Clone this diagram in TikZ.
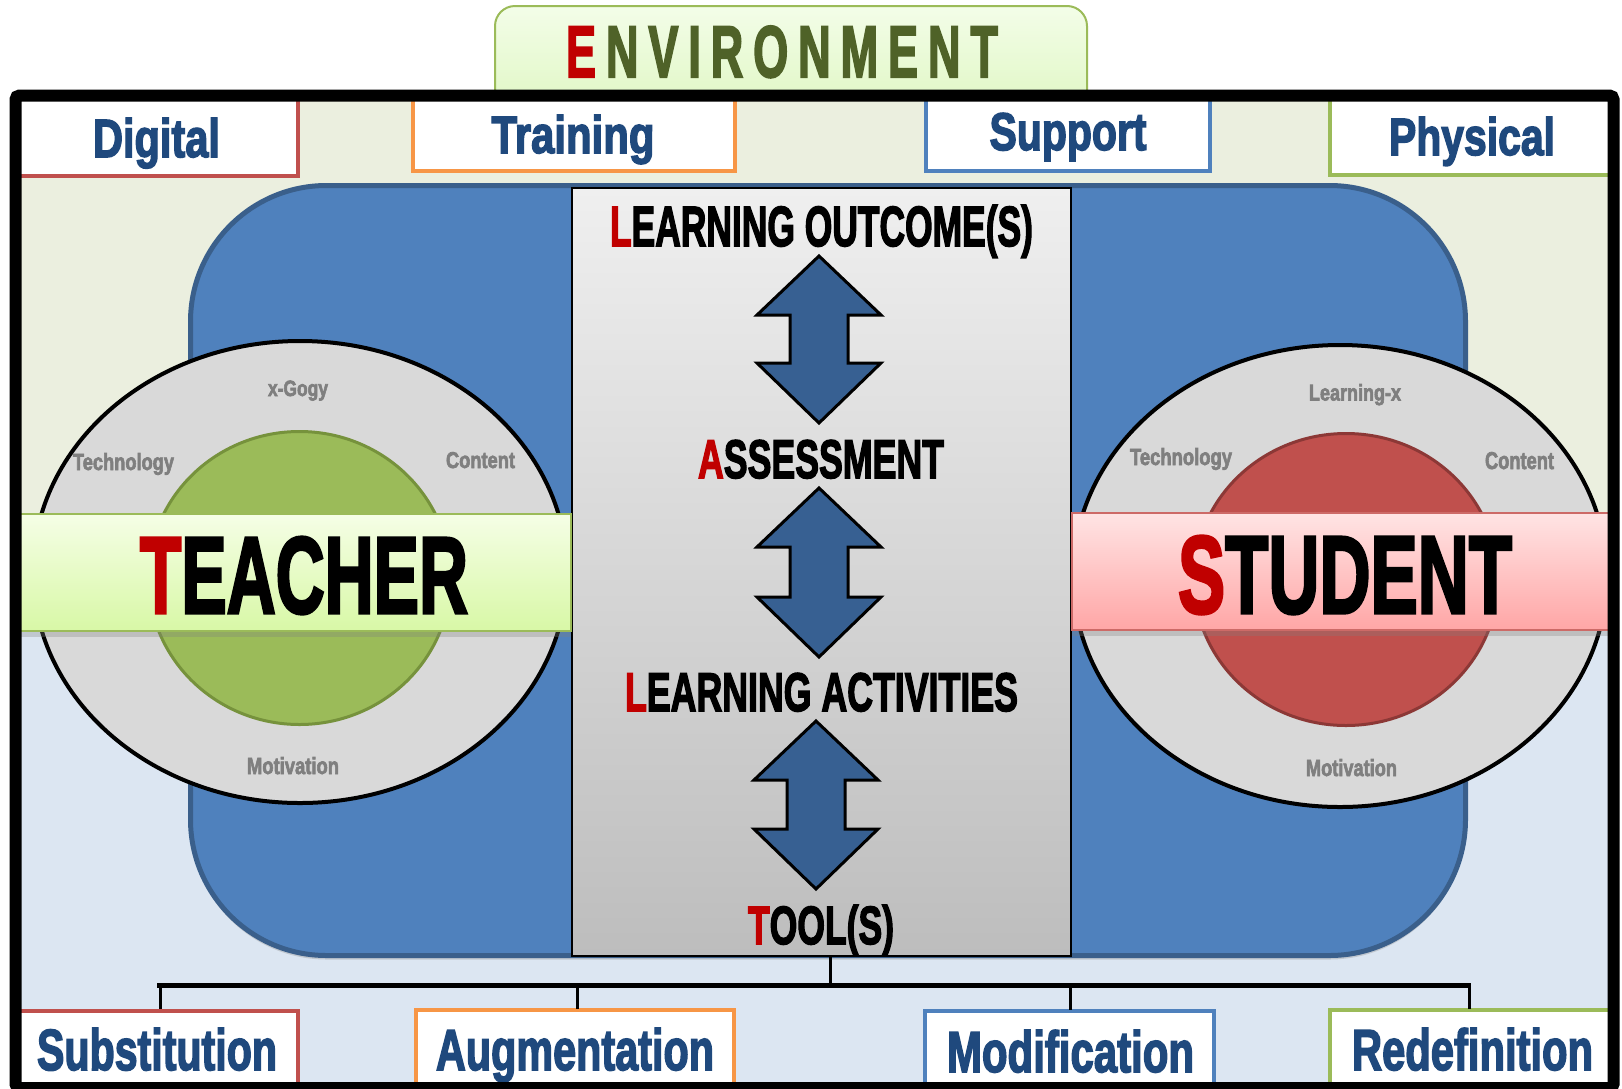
\documentclass[tikz,border=0pt]{standalone}
\usepackage{fontspec}
\usepackage{graphicx}
\usetikzlibrary{shadows}
\newfontfamily\impactfont{Liberation Sans}[BoldFeatures={FakeBold=3}]
\definecolor{envred}{HTML}{C00000}
\definecolor{envolive}{HTML}{4F6228}
\definecolor{envtop}{HTML}{F3FDE8}
\definecolor{envbottom}{HTML}{E2F8C8}
\definecolor{tabblue}{HTML}{1F497D}
\definecolor{edgered}{HTML}{C0504D}
\definecolor{edgeorange}{HTML}{F79646}
\definecolor{edgeblue}{HTML}{4F81BD}
\definecolor{edgegreen}{HTML}{9BBB59}
\definecolor{bgtop}{HTML}{EBEFDF}
\definecolor{bgbottom}{HTML}{DCE6F2}
\definecolor{midblue}{HTML}{4F81BD}
\definecolor{midblueedge}{HTML}{3A5F8B}
\definecolor{coretop}{HTML}{EFEFEF}
\definecolor{corebottom}{HTML}{BDBDBD}
\definecolor{arrowblue}{HTML}{376092}
\definecolor{ringgray}{HTML}{D9D9D9}
\definecolor{labelgray}{HTML}{7F7F7F}
\definecolor{teachgreen}{HTML}{9BBB59}
\definecolor{teachgreenedge}{HTML}{76923C}
\definecolor{teachtop}{HTML}{F5FEE6}
\definecolor{teachbottom}{HTML}{D8F8A6}
\definecolor{studred}{HTML}{C0504D}
\definecolor{studrededge}{HTML}{8C3836}
\definecolor{studtop}{HTML}{FFE4E4}
\definecolor{studbottom}{HTML}{FFA6A6}
\definecolor{studbandedge}{HTML}{CD6A67}

\newlength\pxu \setlength\pxu{0.5pt}
\newcommand\fitbox[3]{\resizebox{#1\pxu}{#2\pxu}{\impactfont\bfseries #3}}
\newcommand\redcap[1]{\textcolor{envred}{#1}}
\newcommand\envgap{\hspace{0.22em}}

\tikzset{
  txt/.style={inner sep=0pt, outer sep=0pt, anchor=base},
  tabbox/.style={fill=white, line width=2pt},
  ringlabel/.style={txt, text=labelgray},
  bandlabel/.style={txt, text=black},
  corelabel/.style={txt, text=black},
  tablabel/.style={txt, text=tabblue},
  blockarrow/.style={fill=arrowblue, draw=black, line width=1.5pt, line join=miter},
  stem/.style={draw=black, line width=1.5pt},
  branchbar/.style={draw=black, line width=2.6pt},
  bandshadow/.style={drop shadow={opacity=0.3, shadow xshift=0pt, shadow yshift=-3pt}},
}

\begin{document}
\begin{tikzpicture}[x=.5pt,y=-.5pt]
\path[use as bounding box] (0,0) rectangle (1622,1088);
\path[fill=white] (0,0) rectangle (1622,1088);

% environment tab
\path[top color=envtop, bottom color=envbottom, draw=edgegreen, line width=1pt, rounded corners=10pt] (495,100) -- (495,6) -- (1087,6) -- (1087,100);
\node[txt, text=envolive] (envTitle) at (782,77) {\fitbox{432}{51}{\redcap{E}\envgap N\envgap V\envgap I\envgap R\envgap O\envgap N\envgap M\envgap E\envgap N\envgap T}};

% inner background
\path[fill=bgtop] (15,95) rectangle (1614,575);
\path[fill=bgbottom] (15,575) rectangle (1614,1088);

% top tabs
\draw[tabbox, draw=edgered] (17,97) rectangle (298,175.5);
\draw[tabbox, draw=edgeorange] (413,97) rectangle (735,171);
\draw[tabbox, draw=edgeblue] (926,97) rectangle (1210,171);
\draw[tabbox, draw=edgegreen] (1330,97) rectangle (1611,175);
\node[tablabel] (digital) at (156.5,157) {\fitbox{127}{39}{Digital}};
\node[tablabel] (training) at (573,153) {\fitbox{163}{38}{Training}};
\node[tablabel] (support) at (1068,150) {\fitbox{157}{37}{Support}};
\node[tablabel] (physical) at (1472,155) {\fitbox{166}{38}{Physical}};

% bottom tabs
\draw[tabbox, draw=edgered] (17,1010.5) rectangle (298,1095);
\draw[tabbox, draw=edgeorange] (416,1010) rectangle (734,1095);
\draw[tabbox, draw=edgeblue] (925,1011) rectangle (1214,1095);
\draw[tabbox, draw=edgegreen] (1330,1010) rectangle (1611,1095);
\coordinate (substTop) at (160,1009);
\coordinate (augTop) at (577,1009);
\coordinate (modTop) at (1070,1010);
\coordinate (redefTop) at (1469,1009);
\node[tablabel] (substitution) at (157,1070) {\fitbox{240}{42}{Substitution}};
\node[tablabel] (augmentation) at (575,1070) {\fitbox{278}{42}{Augmentation}};
\node[tablabel] (modification) at (1070.5,1072) {\fitbox{247}{42}{Modification}};
\node[tablabel] (redefinition) at (1472.5,1070) {\fitbox{241}{42}{Redefinition}};

% blue field
\path[fill=midblue, draw=midblueedge, line width=2.5pt, rounded corners=68pt, drop shadow={opacity=0.3, shadow xshift=0pt, shadow yshift=-2pt}] (190.5,185.5) rectangle (1465.5,955.5);

% core column
\path[top color=coretop, bottom color=corebottom, draw=black, line width=1pt] (572,188) rectangle (1071,956);
\coordinate (coreS) at (830,956);
\node[corelabel] (outcome) at (821.5,246) {\fitbox{423}{41}{\redcap{L}EARNING OUTCOME(S)}};
\node[corelabel] (assess) at (821,478) {\fitbox{246}{38}{\redcap{A}SSESSMENT}};
\node[corelabel] (activities) at (821.5,711) {\fitbox{393}{38}{\redcap{L}EARNING ACTIVITIES}};
\node[corelabel] (tools) at (821,944) {\fitbox{146}{39}{\redcap{T}OOL(S)}};
\foreach \cx/\ta/\tb in {819/256/423, 819/488/657, 816/721/889}
  \path[blockarrow] (\cx,\ta) -- ({\cx+62},{\ta+59}) -- ({\cx+29},{\ta+59}) -- ({\cx+29},{\tb-60}) -- ({\cx+62},{\tb-60}) -- (\cx,\tb) -- ({\cx-62},{\tb-60}) -- ({\cx-29},{\tb-60}) -- ({\cx-29},{\ta+59}) -- ({\cx-62},{\ta+59}) -- cycle;

% teacher
\draw[fill=ringgray, line width=2pt] (300,572) ellipse [x radius=267, y radius=231];
\draw[fill=teachgreen, draw=teachgreenedge, line width=1.5pt] (299.5,578) ellipse [x radius=151, y radius=146.5];
\node[ringlabel] (tGogy) at (298,396) {\fitbox{60}{15.5}{x-Gogy}};
\node[ringlabel] (tTech) at (123.5,470) {\fitbox{101}{17}{Technology}};
\node[ringlabel] (tContent) at (480.5,468) {\fitbox{69}{16}{Content}};
\node[ringlabel] (tMotiv) at (293,774) {\fitbox{92}{17}{Motivation}};
\path[top color=teachtop, bottom color=teachbottom, draw=edgegreen, line width=1pt, bandshadow] (15,514) rectangle (571,631);
\node[bandlabel] (teacher) at (304,613) {\fitbox{328}{76}{\redcap{T}EACHER}};

% student
\draw[fill=ringgray, line width=2pt] (1340,576) ellipse [x radius=267, y radius=231];
\draw[fill=studred, draw=studrededge, line width=1.5pt] (1346,579.5) ellipse [x radius=152, y radius=146];
\node[ringlabel] (sLearn) at (1355,400.5) {\fitbox{92}{16.5}{Learning-x}};
\node[ringlabel] (sTech) at (1181,465) {\fitbox{102}{17}{Technology}};
\node[ringlabel] (sContent) at (1519.5,469) {\fitbox{69}{17}{Content}};
\node[ringlabel] (sMotiv) at (1351.5,776) {\fitbox{91}{17}{Motivation}};
\path[top color=studtop, bottom color=studbottom, draw=studbandedge, line width=1pt, bandshadow] (1072,513) rectangle (1614,630);
\node[bandlabel] (student) at (1345,613) {\fitbox{334}{77}{\redcap{S}TUDENT}};

% tools tree
\coordinate (bar) at (830,985.5);
\coordinate (barW) at (157,985.5);
\coordinate (barE) at (1471,985.5);
\draw[stem] (coreS) -- (bar);
\draw[branchbar] (barW) -- (barE);
\foreach \t in {substTop,augTop,modTop,redefTop}
  \draw[stem] (\t |- bar) -- (\t);

% frame
\draw[line width=6pt, rounded corners=2pt] (15.5,95.5) rectangle (1613.5,1088);
\end{tikzpicture}
\end{document}
